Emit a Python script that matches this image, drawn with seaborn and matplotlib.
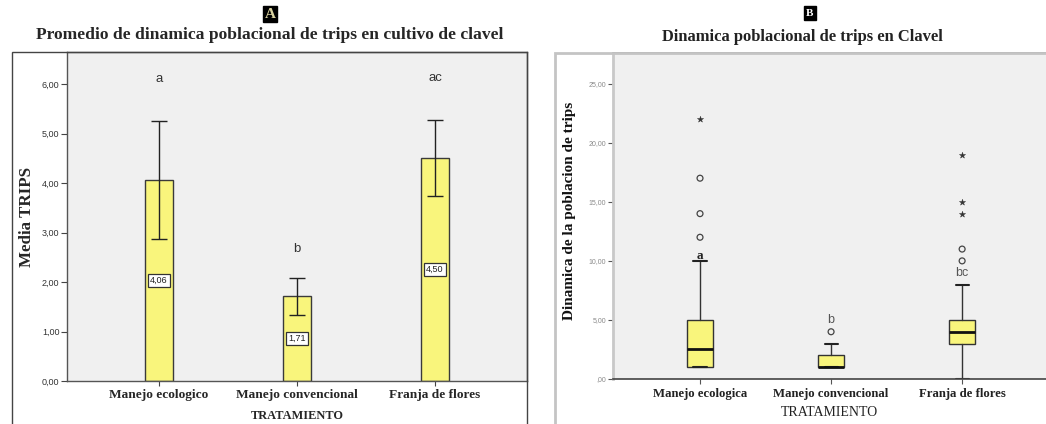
import matplotlib
matplotlib.use("Agg")
import matplotlib.pyplot as plt
from matplotlib.patches import Rectangle
import numpy as np
import pandas as pd
import seaborn as sns

# ---- data -------------------------------------------------------------
categories_a = ["Manejo ecologico", "Manejo convencional", "Franja de flores"]
mean_trips = [4.06, 1.71, 4.50]
ci_low = [2.87, 1.33, 3.74]
ci_high = [5.25, 2.09, 5.27]
letters_a = ["a", "b", "ac"]
letters_a_y = [6.10, 2.67, 6.12]
yticks_a = [0, 1, 2, 3, 4, 5, 6]

categories_b = ["Manejo ecologica", "Manejo convencional", "Franja de flores"]
box_q1 = [1.0, 1.0, 3.0]
box_med = [2.5, 1.0, 4.0]
box_q3 = [5.0, 2.0, 5.0]
whisk_lo = [1.0, 1.0, 0.0]
whisk_hi = [10.0, 3.0, 8.0]
out_circle = [[12, 14, 17], [4], [10, 11]]
out_star = [[22], [], [14, 15, 19]]
letters_b = ["a", "b", "bc"]
letters_b_y = [10.45, 5.0, 8.96]
yticks_b = [0, 5, 10, 15, 20, 25]

# ---- style ------------------------------------------------------------
sns.set_style("white")
SERIF = "Liberation Serif"
SANS = "Liberation Sans"
YELLOW = "#f9f57c"
PLOT_BG = "#f0f0f0"

W, H = 1046, 424
fig = plt.figure(figsize=(W / 100, H / 100), dpi=100)


def fx(px):
    return px / W


def fy(py):
    return 1 - py / H


# outer frames of the two panels
fig.patches.append(Rectangle((fx(12), fy(430)), fx(527 - 12), fy(52) - fy(430),
                             transform=fig.transFigure, fill=False,
                             edgecolor="#444444", lw=1.0))
fig.patches.append(Rectangle((fx(555), fy(430)), fx(1060 - 555), fy(53) - fy(430),
                             transform=fig.transFigure, fill=False,
                             edgecolor="#c4c4c4", lw=2.0))

# ---- panel A: bar chart of means -------------------------------------
axA = fig.add_axes([fx(67), fy(381), fx(527 - 67), fy(52) - fy(381)])
axA.set_facecolor(PLOT_BG)
dfA = pd.DataFrame({"TRATAMIENTO": categories_a, "Media": mean_trips})
sns.barplot(data=dfA, x="TRATAMIENTO", y="Media", ax=axA, color=YELLOW,
            saturation=1, width=0.2, edgecolor="#3a3a3a", linewidth=1.0,
            errorbar=None)
xs = np.arange(len(categories_a))
err = [np.array(mean_trips) - np.array(ci_low), np.array(ci_high) - np.array(mean_trips)]
axA.errorbar(xs, mean_trips, yerr=err, fmt="none", ecolor="#222222",
             elinewidth=1.0, capsize=5.5, capthick=1.0, zorder=4)
for x, m in zip(xs, mean_trips):
    axA.text(x, m / 2, f"{m:.2f}".replace(".", ","), ha="center", va="center",
             fontsize=6.5, family=SANS, color="#222222", zorder=5,
             bbox=dict(boxstyle="square,pad=0.25", fc="white", ec="#333333", lw=0.9))
for x, lab, ly in zip(xs, letters_a, letters_a_y):
    axA.text(x, ly, lab, ha="center", va="center", fontsize=9.5,
             family=SANS, color="#333333")

axA.set_xlim(-0.667, 2.667)
axA.set_ylim(0, 6.65)
axA.set_yticks(yticks_a)
axA.set_yticklabels([f"{v:.2f}".replace(".", ",") for v in yticks_a],
                    family=SANS, fontsize=6.5, color="#333333")
axA.set_xticks(xs)
axA.set_xticklabels(categories_a, family=SANS)
for t in axA.get_xticklabels():
    t.set_fontfamily(SERIF)
    t.set_fontweight("bold")
    t.set_fontsize(9.6)
axA.tick_params(axis="y", direction="out", length=4, width=0.8, color="#444444",
                pad=1.5, left=True)
axA.tick_params(axis="x", direction="out", length=3.5, width=0.8, color="#444444",
                pad=2.5, bottom=True)
for s in axA.spines.values():
    s.set_color("#555555")
    s.set_linewidth(1.0)
axA.set_xlabel("TRATAMIENTO", family=SERIF, fontweight="bold", fontsize=8.9)
axA.xaxis.set_label_coords(0.5, (381 - 416) / 329)
axA.xaxis.label.set_verticalalignment("center")
axA.set_ylabel("Media TRIPS", family=SERIF, fontweight="bold", fontsize=12.2)
axA.yaxis.set_label_coords((27 - 67) / 460, 0.5)
axA.yaxis.label.set_verticalalignment("center")

fig.text(fx(270), fy(35), "Promedio de dinamica poblacional de trips en cultivo de clavel",
         ha="center", va="center", family=SERIF, fontweight="bold", fontsize=12.6)
fig.text(fx(270), fy(14), "A", ha="center", va="center", family=SERIF,
         fontweight="bold", fontsize=11, color="#d9d2a0",
         bbox=dict(boxstyle="square,pad=0.12", fc="black", ec="black"))

# ---- panel B: box plot -------------------------------------------------
axB = fig.add_axes([fx(613), fy(379), fx(1046 - 613), fy(53) - fy(379)])
axB.set_facecolor(PLOT_BG)
stats = []
for i, name in enumerate(categories_b):
    stats.append(dict(label=name, q1=box_q1[i], med=box_med[i], q3=box_q3[i],
                      whislo=whisk_lo[i], whishi=whisk_hi[i], fliers=[]))
pos = np.arange(len(categories_b))
axB.bxp(stats, positions=pos, widths=0.2, patch_artist=True, showfliers=False,
        boxprops=dict(facecolor=YELLOW, edgecolor="#333333", linewidth=1.0),
        medianprops=dict(color="#111111", linewidth=2.0),
        whiskerprops=dict(color="#333333", linewidth=1.0),
        capprops=dict(color="#222222", linewidth=1.5), capwidths=0.1)

circ = pd.DataFrame([(i, v) for i, vals in enumerate(out_circle) for v in vals],
                    columns=["pos", "valor"])
star = pd.DataFrame([(i, v) for i, vals in enumerate(out_star) for v in vals],
                    columns=["pos", "valor"])
sns.scatterplot(data=circ, x="pos", y="valor", ax=axB, marker="o", s=18,
                facecolor="none", edgecolor="#444444", linewidth=0.9, zorder=5)
sns.scatterplot(data=star, x="pos", y="valor", ax=axB, marker="*", s=22,
                color="#333333", edgecolor="#333333", linewidth=0.3, zorder=5)

for i, (lab, ly) in enumerate(zip(letters_b, letters_b_y)):
    if i == 0:
        axB.text(i, ly, lab, ha="center", va="center", fontsize=9.5,
                 family=SERIF, fontweight="bold", color="#222222")
    else:
        axB.text(i, ly, lab, ha="center", va="center", fontsize=9,
                 family=SANS, color="#555555")

axB.set_xlim(-0.664, 2.64)
axB.set_ylim(0, 27.6)
axB.set_yticks(yticks_b)
axB.set_yticklabels([(f"{v:.2f}".replace(".", ",") if v else ",00") for v in yticks_b],
                    family=SANS, fontsize=5, color="#8a8a8a")
axB.set_xticks(pos)
axB.set_xticklabels(categories_b)
for t in axB.get_xticklabels():
    t.set_fontfamily(SERIF)
    t.set_fontweight("bold")
    t.set_fontsize(9.2)
    t.set_color("#222222")
axB.tick_params(axis="y", direction="out", length=3.5, width=0.8, color="#555555",
                pad=1.5, left=True)
axB.tick_params(axis="x", direction="out", length=3.5, width=0.8, color="#555555",
                pad=3, bottom=True)
axB.spines["left"].set_color("#c8c8c8")
axB.spines["left"].set_linewidth(2.0)
axB.spines["top"].set_color("#8a8a8a")
axB.spines["top"].set_linewidth(1.2)
axB.spines["right"].set_visible(False)
axB.spines["bottom"].set_color("#444444")
axB.spines["bottom"].set_linewidth(1.2)
axB.set_xlabel("TRATAMIENTO", family=SERIF, fontsize=10, color="#222222")
axB.xaxis.set_label_coords(0.5, (379 - 413) / 326)
axB.xaxis.label.set_verticalalignment("center")
axB.set_ylabel("Dinamica de la poblacion de trips", family=SERIF,
               fontweight="bold", fontsize=11, color="#111111")
axB.yaxis.set_label_coords((570 - 613) / 433, (379 - 211) / 326)
axB.yaxis.label.set_verticalalignment("center")

fig.text(fx(802), fy(37), "Dinamica poblacional de trips en Clavel",
         ha="center", va="center", family=SERIF, fontweight="bold", fontsize=11.9,
         color="#222222")
fig.text(fx(810), fy(13), "B", ha="center", va="center", family=SERIF,
         fontweight="bold", fontsize=8, color="white",
         bbox=dict(boxstyle="square,pad=0.2", fc="black", ec="black"))

fig.savefig("out.png", dpi=100, facecolor="white")
